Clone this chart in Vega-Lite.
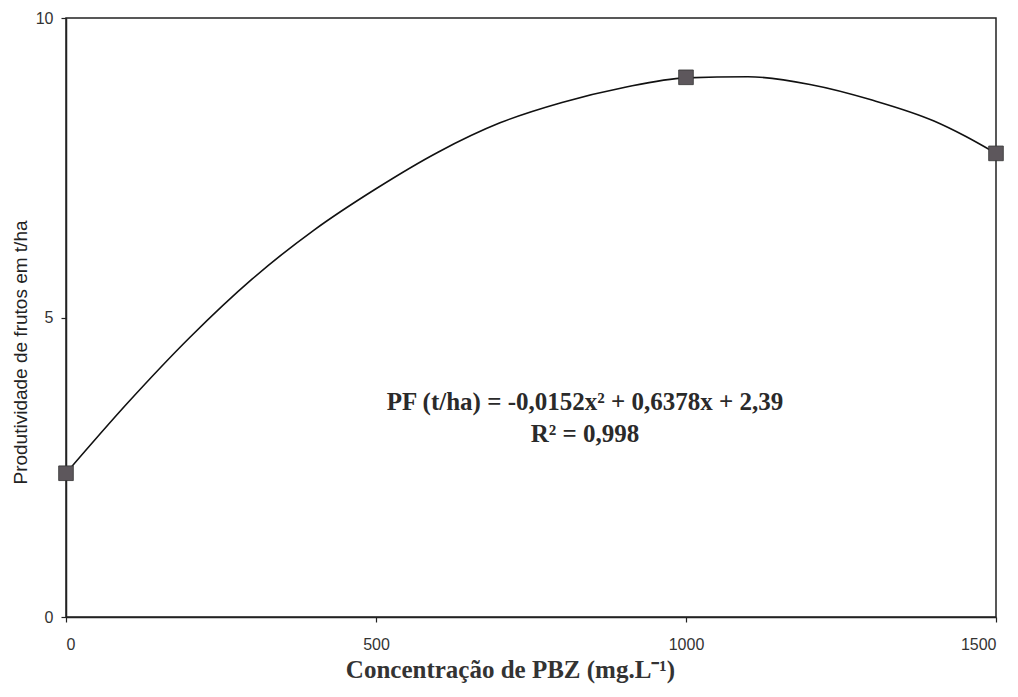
{
  "$schema": "https://vega.github.io/schema/vega-lite/v6.json",
  "width": 930,
  "height": 599,
  "autosize": "none",
  "padding": {"left": 66, "top": 18, "right": 22, "bottom": 80},
  "background": "white",
  "config": {
    "view": {"stroke": "#222", "strokeWidth": 1.5},
    "axis": {
      "domainColor": "#222", "domainWidth": 1.5, "tickColor": "#222", "tickWidth": 1.2, "tickSize": 5,
      "labelFont": "Liberation Sans", "labelFontSize": 16, "labelColor": "#333", "grid": false
    }
  },
  "datasets": {
    "curve": [
      {"x": 0, "y": 2.40}, {"x": 100, "y": 3.58}, {"x": 200, "y": 4.67}, {"x": 300, "y": 5.64},
      {"x": 400, "y": 6.46}, {"x": 500, "y": 7.15}, {"x": 600, "y": 7.76}, {"x": 700, "y": 8.25},
      {"x": 800, "y": 8.59}, {"x": 900, "y": 8.84}, {"x": 1000, "y": 9.00}, {"x": 1100, "y": 9.02},
      {"x": 1200, "y": 8.89}, {"x": 1300, "y": 8.63}, {"x": 1400, "y": 8.28}, {"x": 1450, "y": 8.03},
      {"x": 1500, "y": 7.74}
    ],
    "points": [
      {"x": 0, "y": 2.40}, {"x": 1000, "y": 9.01}, {"x": 1500, "y": 7.74}
    ]
  },
  "layer": [
    {
      "data": {"name": "curve"},
      "mark": {"type": "line", "interpolate": "monotone", "color": "#111", "strokeWidth": 1.6},
      "encoding": {
        "x": {
          "field": "x", "type": "quantitative",
          "scale": {"domain": [0, 1500], "nice": false},
          "axis": {
            "values": [0, 500, 1000, 1500], "format": "d", "labelPadding": 14, "labelFontSize": 16,
            "title": "Concentração de PBZ (mg.L⁻¹)", "titleFont": "Liberation Serif",
            "titleFontSize": 25, "titleFontWeight": "bold", "titleColor": "#333",
            "titleX": 444, "titleY": 60, "titleBaseline": "alphabetic", "titleAlign": "center"
          }
        },
        "y": {
          "field": "y", "type": "quantitative",
          "scale": {"domain": [0, 10], "nice": false},
          "axis": {
            "values": [0, 5, 10], "format": "d", "labelPadding": 8, "labelFontSize": 16,
            "title": "Produtividade de frutos em t/ha", "titleFont": "Liberation Sans",
            "titleFontSize": 19, "titleFontWeight": "normal", "titleColor": "#222",
            "titleX": -46, "titleY": 334, "titleBaseline": "middle", "titleAlign": "center", "titleAngle": -90
          }
        }
      }
    },
    {
      "data": {"name": "points"},
      "mark": {"type": "square", "size": 215, "filled": true, "color": "#5d575c", "stroke": "#333", "strokeWidth": 0.8, "opacity": 1},
      "encoding": {
        "x": {"field": "x", "type": "quantitative"},
        "y": {"field": "y", "type": "quantitative"}
      }
    },
    {
      "data": {"values": [{"t": "PF (t/ha) = -0,0152x² + 0,6378x + 2,39"}]},
      "mark": {"type": "text", "font": "Liberation Serif", "fontSize": 25, "fontWeight": "bold", "color": "#2a2a2a", "align": "center", "baseline": "middle"},
      "encoding": {
        "x": {"datum": 837},
        "y": {"datum": 3.59},
        "text": {"field": "t"}
      }
    },
    {
      "data": {"values": [{"t": "R² = 0,998"}]},
      "mark": {"type": "text", "font": "Liberation Serif", "fontSize": 25, "fontWeight": "bold", "color": "#2a2a2a", "align": "center", "baseline": "middle"},
      "encoding": {
        "x": {"datum": 837},
        "y": {"datum": 3.06},
        "text": {"field": "t"}
      }
    }
  ]
}
